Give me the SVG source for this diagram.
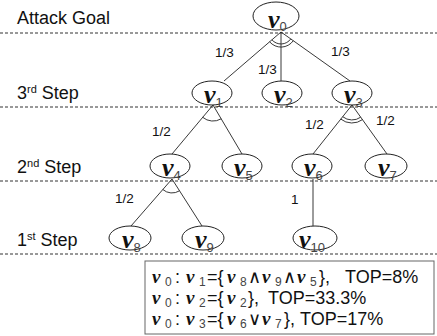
<svg xmlns="http://www.w3.org/2000/svg" width="437" height="336" viewBox="0 0 437 336">
<defs>
<style>
.lvl{font-family:"Liberation Sans",Arial,sans-serif;font-size:18px;fill:#111}
.sup{font-size:11px}
.dash{stroke:#333;stroke-width:1;stroke-dasharray:3 2;fill:none}
.node{fill:#fff;stroke:#222;stroke-width:1}
.nu{font-family:"Liberation Serif","Times New Roman",serif;font-weight:bold;font-style:italic;font-size:26px;fill:#111}
.sub{font-family:"Liberation Sans",Arial,sans-serif;font-size:13px;font-style:normal;font-weight:normal;fill:#444}
.edge{stroke:#222;stroke-width:0.9;fill:none}
.lab{font-family:"Liberation Sans",Arial,sans-serif;font-size:13.5px;fill:#111}
.box{fill:#fff;stroke:#666;stroke-width:1}
.bt{font-family:"Liberation Sans",Arial,sans-serif;font-size:18px;fill:#111}
.bnu{font-family:"Liberation Serif","Times New Roman",serif;font-weight:bold;font-style:italic;font-size:19px;fill:#111}
.bsub{font-family:"Liberation Sans",Arial,sans-serif;font-size:12px;fill:#444}
</style>
</defs>
<rect width="437" height="336" fill="#fff"/>
<g id="levels">
<text class="lvl" x="17" y="24">Attack Goal</text>
<text class="lvl" x="17" y="99">3<tspan class="sup" dy="-6">rd</tspan><tspan dy="6"> Step</tspan></text>
<text class="lvl" x="17" y="173">2<tspan class="sup" dy="-6">nd</tspan><tspan dy="6"> Step</tspan></text>
<text class="lvl" x="17" y="246">1<tspan class="sup" dy="-6">st</tspan><tspan dy="6"> Step</tspan></text>
<line class="dash" x1="0" y1="33" x2="437" y2="33"/>
<line class="dash" x1="0" y1="107" x2="437" y2="107"/>
<line class="dash" x1="0" y1="181" x2="437" y2="181"/>
<line class="dash" x1="0" y1="254" x2="437" y2="254"/>
</g>
<g id="connectors">
<line class="edge" x1="281" y1="32" x2="224" y2="81"/>
<line class="edge" x1="281" y1="32" x2="281" y2="81"/>
<line class="edge" x1="281" y1="32" x2="350" y2="81"/>
<path class="edge" d="M271.9 39.8 A12 12 0 0 0 290.8 38.9"/>
<path class="edge" d="M269.6 41.8 A15 15 0 0 0 293.3 40.7"/>
<line class="edge" x1="213" y1="105" x2="172" y2="154"/>
<line class="edge" x1="213" y1="105" x2="242" y2="154"/>
<path class="edge" d="M202.7 117.3 A16 16 0 0 0 221.2 118.8"/>
<line class="edge" x1="352" y1="105" x2="313" y2="154"/>
<line class="edge" x1="352" y1="105" x2="387" y2="154"/>
<path class="edge" d="M342.7 116.7 A15 15 0 0 0 360.7 117.2"/>
<path class="edge" d="M340.8 119.1 A18 18 0 0 0 362.5 119.6"/>
<line class="edge" x1="172" y1="179" x2="131" y2="226"/>
<line class="edge" x1="172" y1="179" x2="202" y2="226"/>
<path class="edge" d="M162.8 189.5 A14 14 0 0 0 179.5 190.8"/>
<line class="edge" x1="313" y1="179" x2="313" y2="226"/>
<text class="lab" x="215" y="57">1/3</text>
<text class="lab" x="258" y="74">1/3</text>
<text class="lab" x="331" y="56">1/3</text>
<text class="lab" x="152" y="136">1/2</text>
<text class="lab" x="305" y="129">1/2</text>
<text class="lab" x="376" y="125">1/2</text>
<text class="lab" x="115" y="203">1/2</text>
<text class="lab" x="291" y="204">1</text>
</g>
<g id="v0"><ellipse class="node" cx="276" cy="16" rx="23" ry="14"/><text class="nu" x="268" y="28">ν<tspan class="sub" dy="3">0</tspan></text></g>
<g id="v1"><ellipse class="node" cx="212" cy="93" rx="20" ry="12"/><text class="nu" x="204" y="103">ν<tspan class="sub" dy="4">1</tspan></text></g>
<g id="v2"><ellipse class="node" cx="282" cy="93" rx="20" ry="12"/><text class="nu" x="274" y="103">ν<tspan class="sub" dy="4">2</tspan></text></g>
<g id="v3"><ellipse class="node" cx="352" cy="93" rx="20" ry="12"/><text class="nu" x="344" y="103">ν<tspan class="sub" dy="4">3</tspan></text></g>
<g id="v4"><ellipse class="node" cx="170" cy="166" rx="20" ry="12"/><text class="nu" x="162" y="176">ν<tspan class="sub" dy="4">4</tspan></text></g>
<g id="v5"><ellipse class="node" cx="242" cy="166" rx="20" ry="12"/><text class="nu" x="234" y="176">ν<tspan class="sub" dy="4">5</tspan></text></g>
<g id="v6"><ellipse class="node" cx="312" cy="166" rx="20" ry="12"/><text class="nu" x="304" y="176">ν<tspan class="sub" dy="4">6</tspan></text></g>
<g id="v7"><ellipse class="node" cx="386" cy="166" rx="21" ry="12"/><text class="nu" x="378" y="176">ν<tspan class="sub" dy="4">7</tspan></text></g>
<g id="v8"><ellipse class="node" cx="130" cy="238" rx="21" ry="12"/><text class="nu" x="122" y="248">ν<tspan class="sub" dy="4">8</tspan></text></g>
<g id="v9"><ellipse class="node" cx="203" cy="238" rx="21" ry="12"/><text class="nu" x="195" y="248">ν<tspan class="sub" dy="4">9</tspan></text></g>
<g id="v10"><ellipse class="node" cx="315" cy="238" rx="22" ry="12"/><text class="nu" x="299" y="248">ν<tspan class="sub" dy="4">10</tspan></text></g>
<g id="legend">
<rect class="box" x="145" y="261" width="289" height="73"/>
<text class="bt" y="283"><tspan class="bnu" x="152">ν</tspan><tspan class="bsub" x="165" dy="3">0</tspan><tspan x="175" dy="-3">:</tspan><tspan class="bnu" x="186">ν</tspan><tspan class="bsub" x="199" dy="3">1</tspan><tspan x="207" dy="-3">={</tspan><tspan class="bnu" x="227">ν</tspan><tspan class="bsub" x="240" dy="3">8</tspan><tspan x="248" dy="-3">∧</tspan><tspan class="bnu" x="262">ν</tspan><tspan class="bsub" x="275" dy="3">9</tspan><tspan x="283" dy="-3">∧</tspan><tspan class="bnu" x="297">ν</tspan><tspan class="bsub" x="310" dy="3">5</tspan><tspan x="319" dy="-3">},</tspan><tspan x="345">TOP=8%</tspan></text>
<text class="bt" y="304"><tspan class="bnu" x="152">ν</tspan><tspan class="bsub" x="165" dy="3">0</tspan><tspan x="175" dy="-3">:</tspan><tspan class="bnu" x="186">ν</tspan><tspan class="bsub" x="199" dy="3">2</tspan><tspan x="207" dy="-3">={</tspan><tspan class="bnu" x="227">ν</tspan><tspan class="bsub" x="240" dy="3">2</tspan><tspan x="248" dy="-3">},</tspan><tspan x="268">TOP=33.3%</tspan></text>
<text class="bt" y="325"><tspan class="bnu" x="152">ν</tspan><tspan class="bsub" x="165" dy="3">0</tspan><tspan x="175" dy="-3">:</tspan><tspan class="bnu" x="186">ν</tspan><tspan class="bsub" x="199" dy="3">3</tspan><tspan x="207" dy="-3">={</tspan><tspan class="bnu" x="227">ν</tspan><tspan class="bsub" x="240" dy="3">6</tspan><tspan x="248" dy="-3">∨</tspan><tspan class="bnu" x="262">ν</tspan><tspan class="bsub" x="275" dy="3">7</tspan><tspan x="284" dy="-3">},</tspan><tspan x="300">TOP=17%</tspan></text>
</g>
</svg>
